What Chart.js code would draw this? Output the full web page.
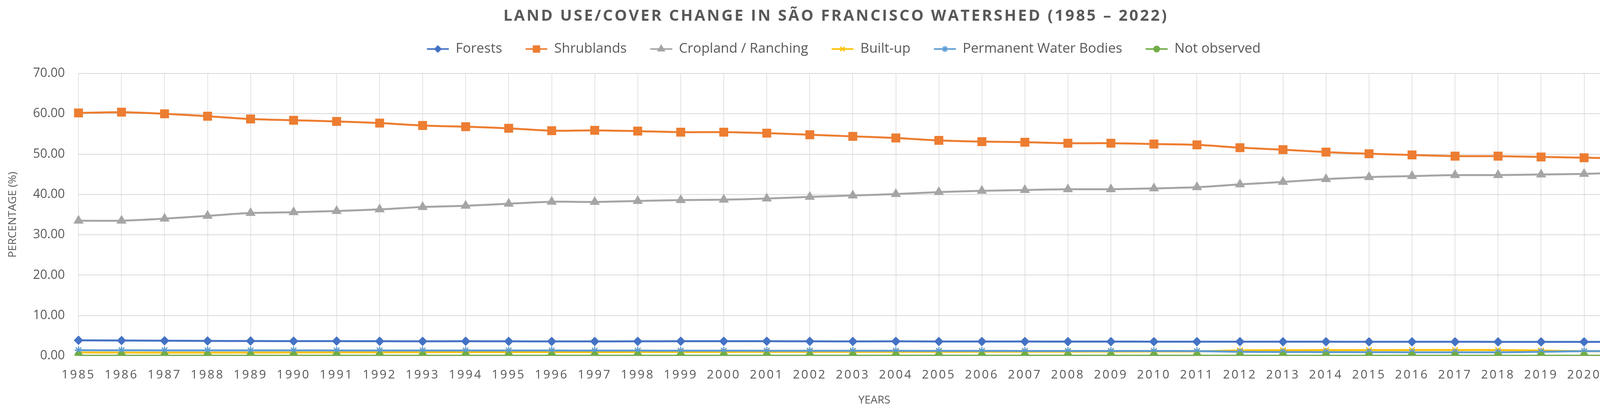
<!DOCTYPE html>
<html>
<head>
<meta charset="utf-8">
<script src="https://cdn.jsdelivr.net/npm/chart.js@4/dist/chart.umd.min.js"></script>
<style>
  html, body { margin: 0; padding: 0; background: #fff; overflow: hidden; }
  #landChart { display: block; width: 4342px; height: 1065px; }
</style>
</head>
<body>
<canvas id="landChart" width="4342" height="1065"></canvas>
<script>
'use strict'
const years = ['1985', '1986', '1987', '1988', '1989', '1990', '1991', '1992', '1993', '1994',
  '1995', '1996', '1997', '1998', '1999', '2000', '2001', '2002', '2003', '2004',
  '2005', '2006', '2007', '2008', '2009', '2010', '2011', '2012', '2013',
  '2014', '2015', '2016', '2017', '2018', '2019', '2020', '2021', '2022'];

const forests = [3.85, 3.8, 3.75, 3.7, 3.68, 3.65, 3.66, 3.62, 3.6, 3.63,
  3.6, 3.58, 3.58, 3.6, 3.62, 3.63, 3.62, 3.6, 3.58, 3.6,
  3.57, 3.55, 3.55, 3.53, 3.53, 3.52, 3.52, 3.52, 3.5,
  3.5, 3.48, 3.48, 3.48, 3.47, 3.47, 3.47, 3.46, 3.45];
const shrublands = [60.2, 60.4, 60.0, 59.4, 58.7, 58.4, 58.1, 57.7, 57.1, 56.8,
  56.4, 55.8, 55.9, 55.7, 55.45, 55.45, 55.2, 54.8, 54.4, 54.0,
  53.4, 53.1, 52.95, 52.7, 52.7, 52.5, 52.3, 51.6, 51.1,
  50.5, 50.1, 49.8, 49.5, 49.5, 49.3, 49.1, 48.9, 48.55];
const cropland = [33.5, 33.5, 34.0, 34.7, 35.4, 35.6, 35.9, 36.3, 36.9, 37.2,
  37.7, 38.2, 38.15, 38.4, 38.6, 38.7, 39.0, 39.4, 39.75, 40.1,
  40.6, 40.9, 41.1, 41.3, 41.3, 41.5, 41.8, 42.5, 43.1,
  43.8, 44.3, 44.55, 44.8, 44.8, 44.95, 45.1, 45.45, 45.6];
const builtUp = [0.85, 0.82, 0.8, 0.8, 0.82, 0.84, 0.86, 0.88, 0.9, 0.92,
  0.93, 0.94, 0.95, 0.96, 0.97, 0.98, 0.99, 1.0, 1.0, 1.01,
  1.02, 1.03, 1.04, 1.05, 1.06, 1.08, 1.1, 1.35, 1.4,
  1.42, 1.43, 1.44, 1.44, 1.44, 1.3, 1.15, 1.15, 1.2];
const waterBodies = [1.4, 1.38, 1.36, 1.36, 1.35, 1.35, 1.34, 1.34, 1.33, 1.33,
  1.32, 1.32, 1.3, 1.3, 1.28, 1.28, 1.27, 1.26, 1.25, 1.25,
  1.24, 1.23, 1.22, 1.22, 1.2, 1.2, 1.18, 1.0, 0.95,
  0.92, 0.9, 0.88, 0.88, 0.88, 1.0, 1.15, 1.2, 1.3];
const notObserved = [0.04, 0.04, 0.04, 0.04, 0.04, 0.04, 0.04, 0.04, 0.04, 0.04,
  0.04, 0.04, 0.04, 0.04, 0.04, 0.04, 0.04, 0.04, 0.04, 0.04,
  0.04, 0.04, 0.04, 0.04, 0.04, 0.04, 0.04, 0.04, 0.04,
  0.04, 0.04, 0.04, 0.04, 0.04, 0.04, 0.04, 0.04, 0.04];

const seriesNames = ['Forests', 'Shrublands', 'Cropland / Ranching', 'Built-up', 'Permanent Water Bodies', 'Not observed'];
const seriesColors = ['#4472C4', '#ED7D31', '#A5A5A5', '#FFC000', '#5B9BD5', '#70AD47'];
const seriesMarkers = ['rectRot', 'rect', 'triangle', 'crossRot', 'star', 'circle'];
const markerSizes = [10, 14, 12, 10, 10, 9];

{
  const textColor = '#595959';
  const gridColor = '#D9D9D9';
  const font = "'Open Sans', 'DejaVu Sans', sans-serif";
  const ctx = document.getElementById('landChart').getContext('2d');

  // legend icon: short line with the marker in the middle (Excel style)
  const iconGap = 40;
  const makeIcon = (color, style, radius) => {
    const c = document.createElement('canvas');
    c.width = 56 + iconGap;
    c.height = 28;
    const g = c.getContext('2d');
    g.strokeStyle = color;
    g.fillStyle = color;
    g.lineWidth = 4;
    g.beginPath();
    g.moveTo(iconGap, 14);
    g.lineTo(iconGap + 56, 14);
    g.stroke();
    g.lineWidth = 3;
    Chart.helpers.drawPoint(g, {pointStyle: style, radius: radius, rotation: 0, borderWidth: 3}, iconGap + 28, 14);
    return c;
  };
  const icons = seriesColors.map((col, i) => makeIcon(col, seriesMarkers[i], markerSizes[i] * 0.8));

  const values = [forests, shrublands, cropland, builtUp, waterBodies, notObserved];
  const datasets = values.map((vals, i) => ({
    label: seriesNames[i],
    data: vals,
    borderColor: seriesColors[i],
    backgroundColor: seriesColors[i],
    borderWidth: 5,
    pointStyle: seriesMarkers[i],
    pointRadius: markerSizes[i],
    pointBorderWidth: 3,
    pointBackgroundColor: seriesColors[i],
    pointBorderColor: seriesColors[i],
    tension: 0.3,
    order: values.length - i,
  }));

  const spacingPlugin = {
    id: 'spacing',
    beforeInit(chart) {
      const fit = chart.legend.fit;
      chart.legend.fit = function () {
        fit.call(this);
        this.height += 35;
      };
    },
    beforeDraw(chart) {
      const sx = chart.scales.x;
      if (!sx._spaced) {
        const orig = sx.drawLabels;
        sx.drawLabels = function (area) {
          this.ctx.save();
          this.ctx.letterSpacing = '4px';
          orig.call(this, area);
          this.ctx.restore();
        };
        sx._spaced = true;
      }
      const tb = chart.titleBlock;
      if (tb && !tb._spaced) {
        const origT = tb.draw;
        tb.draw = function () {
          this.ctx.save();
          this.ctx.letterSpacing = '4.5px';
          origT.call(this);
          this.ctx.restore();
        };
        tb._spaced = true;
      }
    },
  };

  const options = {
    responsive: false,
    animation: false,
    devicePixelRatio: 1,
    layout: {
      padding: {left: 0, right: 62, top: 0, bottom: 0},
    },
    plugins: {
      title: {
        display: true,
        text: 'LAND USE/COVER CHANGE IN SÃO FRANCISCO WATERSHED (1985 – 2022)',
        color: textColor,
        font: {family: font, size: 40, weight: 'bold'},
        padding: {top: 18, bottom: 22},
      },
      legend: {
        display: true,
        position: 'top',
        labels: {
          color: textColor,
          font: {family: font, size: 35},
          usePointStyle: true,
          pointStyleWidth: 56 + iconGap,
          padding: 20,
          sort: (a, b) => a.datasetIndex - b.datasetIndex,
          generateLabels: (chart) => {
            const items = Chart.defaults.plugins.legend.labels.generateLabels(chart);
            items.forEach((it) => { it.pointStyle = icons[it.datasetIndex]; });
            return items;
          },
        },
      },
      tooltip: {enabled: false},
    },
    scales: {
      x: {
        offset: false,
        grid: {color: gridColor, lineWidth: 1.5, drawTicks: false},
        border: {display: false},
        ticks: {
          color: textColor,
          font: {family: font, size: 31},
          padding: 31,
          maxRotation: 0,
          autoSkip: false,
        },
        title: {
          display: true,
          text: 'YEARS',
          color: textColor,
          font: {family: font, size: 28},
          padding: {top: 29, bottom: 23},
        },
        afterFit: (scale) => { scale.height = 154; },
      },
      y: {
        min: 0,
        max: 70,
        grid: {color: gridColor, lineWidth: 2, drawTicks: false},
        border: {display: false},
        ticks: {
          stepSize: 10,
          color: textColor,
          font: {family: font, size: 32},
          padding: 35,
          callback: (v) => Number(v).toFixed(2),
        },
        title: {
          display: true,
          text: 'PERCENTAGE (%)',
          color: textColor,
          font: {family: font, size: 28},
          padding: {top: 16, bottom: 34},
        },
        afterFit: (scale) => { scale.width = 201; },
      },
    },
  };

  const landChart = new Chart(ctx, {
    type: 'line',
    data: {labels: years, datasets: datasets},
    options: options,
    plugins: [spacingPlugin],
  });
}
</script>
</body>
</html>
